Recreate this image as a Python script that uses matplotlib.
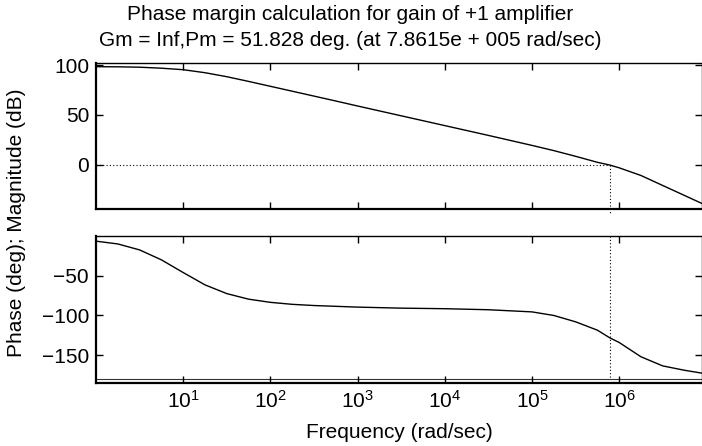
import numpy as np
import matplotlib
matplotlib.use("Agg")
import matplotlib.pyplot as plt

plt.rcParams['font.family'] = ['Liberation Sans', 'DejaVu Sans']
plt.rcParams['mathtext.fontset'] = 'custom'
plt.rcParams['mathtext.rm'] = 'Liberation Sans'
plt.rcParams['mathtext.it'] = 'Liberation Sans:italic'

# log10 of frequency (rad/sec)
log_freq = [0, 0.25, 0.5, 0.75, 1.0, 1.25, 1.5, 1.75, 2.0, 2.25, 2.5, 2.75, 3.0,
            3.5, 4.0, 4.5, 5.0, 5.25, 5.5, 5.75, 5.89, 6.0, 6.25, 6.5, 6.75, 7.0]
magnitude_db = [98.3, 98.2, 97.8, 96.8, 95.3, 92.3, 88.3, 83.6, 78.7, 73.8, 68.9, 64.0, 59.0,
                49.2, 39.4, 29.6, 19.6, 14.4, 8.7, 2.7, 0.0, -2.8, -10.5, -20.5, -30.5, -40.5]
phase_deg = [-6.5, -10, -17.5, -30, -46, -61.5, -72.5, -79.5, -83.5, -86, -87.5, -88.5, -89.5,
             -90.8, -91.5, -92.8, -95.5, -100, -108, -118.5, -128, -134, -152, -163.5, -169, -173.5]

crossover_freq = 7.8615e5
title_lines = ["Phase margin calculation for gain of +1 amplifier",
               "Gm = Inf,Pm = 51.828 deg. (at 7.8615e + 005 rad/sec)"]

freq = 10 ** np.array(log_freq)

fig = plt.figure(figsize=(7.02, 4.46), dpi=100)
W, H = 702, 446

def pos(l, t, r, b):
    return [l / W, 1 - b / H, (r - l) / W, (b - t) / H]

ax1 = fig.add_axes(pos(96, 63, 702, 209))
ax2 = fig.add_axes(pos(96, 236, 702, 383))

xlim = (1, 10 ** 6.95)
fs = 15

for ax in (ax1, ax2):
    ax.set_xscale('log')
    ax.set_xlim(*xlim)
    ax.set_xticks([10 ** k for k in range(1, 7)])
    ax.xaxis.set_minor_locator(matplotlib.ticker.NullLocator())
    ax.tick_params(direction='in', top=True, right=True, length=5, width=1,
                   labelsize=fs, colors='black', pad=5)
    for s in ('top', 'right'):
        ax.spines[s].set_linewidth(1.0)
    for s in ('left', 'bottom'):
        ax.spines[s].set_linewidth(1.6)

ax1.plot(freq, magnitude_db, color='black', lw=1.0)
ax1.set_ylim(-44, 102)
ax1.set_yticks([0, 50, 100])
ax1.tick_params(labelbottom=False)
ax1.plot([xlim[0], crossover_freq], [0, 0], color='black', lw=0.8, ls=(0, (1, 2)))
ax1.plot([crossover_freq, crossover_freq], [0, -50], color='black', lw=0.8,
         ls=(0, (1, 2)), clip_on=False)

ax2.plot(freq, phase_deg, color='black', lw=1.0)
ax2.set_ylim(-185, 0)
ax2.set_yticks([-150, -100, -50])
ax2.axhline(-180, color='black', lw=0.8, alpha=0.8)
ax2.plot([crossover_freq, crossover_freq], [0, -180], color='black', lw=0.8, ls=(0, (1, 2)))

fig.text(350 / W, 1 - 15 / H, title_lines[0], ha='center', va='center', fontsize=fs)
fig.text(350 / W, 1 - 40 / H, title_lines[1], ha='center', va='center', fontsize=fs)
fig.text(17 / W, 1 - 223 / H, "Phase (deg); Magnitude (dB)", rotation=90,
         ha='center', va='center', fontsize=fs)
fig.text(399 / W, 1 - 432 / H, "Frequency (rad/sec)", ha='center', va='center', fontsize=fs)

fig.savefig("out.png", dpi=100)
